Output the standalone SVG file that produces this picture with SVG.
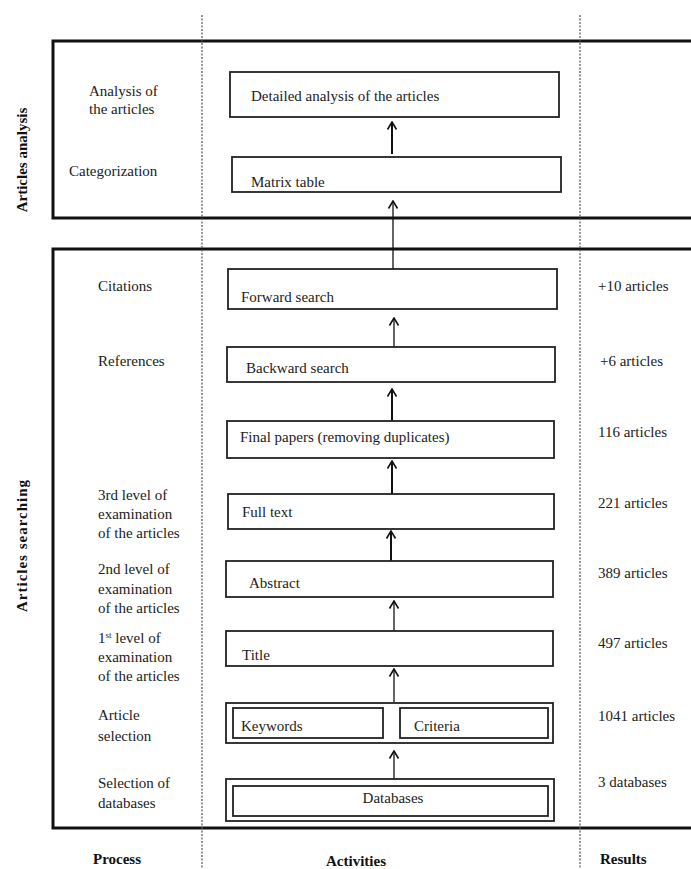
<svg xmlns="http://www.w3.org/2000/svg" width="691" height="869" viewBox="0 0 691 869">
<style>
text{font-family:"Liberation Serif","Times New Roman",serif;font-size:15px;fill:#222}
.b{font-weight:bold;fill:#111}
.frame{fill:none;stroke:#111;stroke-width:3}
.box{fill:#fff;stroke:#222;stroke-width:1.8}
.dash{stroke:#555;stroke-width:1.2;stroke-dasharray:2 1.5}
.arr{stroke:#111;fill:none;marker-end:url(#ah)}
</style>
<defs>
<marker id="ah" markerUnits="userSpaceOnUse" markerWidth="10" markerHeight="12" refX="8.5" refY="6" orient="auto" viewBox="0 0 10 12">
<path d="M1,1.5 L8.5,6 L1,10.5" fill="none" stroke="#111" stroke-width="1.6"/>
</marker>
</defs>
<rect width="691" height="869" fill="#fff"/>
<g id="frames">
<rect class="frame" x="53" y="41" width="660" height="177"/>
<rect class="frame" x="53" y="249" width="660" height="579"/>
<line class="dash" x1="202" y1="15" x2="202" y2="869"/>
<line class="dash" x1="580" y1="15" x2="580" y2="869"/>
</g>
<g id="labels-vertical">
<text class="b" transform="translate(27,160) rotate(-90)" text-anchor="middle">Articles analysis</text>
<text class="b" transform="translate(27,546) rotate(-90)" text-anchor="middle" textLength="132" lengthAdjust="spacing">Articles searching</text>
</g>
<g id="process-labels">
<text x="89" y="96">Analysis of</text>
<text x="89" y="114">the articles</text>
<text x="69" y="176">Categorization</text>
<text x="98" y="291">Citations</text>
<text x="98" y="366">References</text>
<text x="98" y="500">3rd level of</text>
<text x="98" y="519">examination</text>
<text x="98" y="538">of the articles</text>
<text x="98" y="574">2nd level of</text>
<text x="98" y="594">examination</text>
<text x="98" y="613">of the articles</text>
<text x="98" y="643">1<tspan font-size="9" dy="-5">st</tspan><tspan dy="5"> level of</tspan></text>
<text x="98" y="662">examination</text>
<text x="98" y="681">of the articles</text>
<text x="98" y="720">Article</text>
<text x="98" y="741">selection</text>
<text x="98" y="788">Selection of</text>
<text x="98" y="808">databases</text>
</g>
<g id="results">
<text x="598" y="291">+10 articles</text>
<text x="600" y="366">+6 articles</text>
<text x="598" y="437">116 articles</text>
<text x="598" y="508">221 articles</text>
<text x="598" y="578">389 articles</text>
<text x="598" y="648">497 articles</text>
<text x="598" y="721">1041 articles</text>
<text x="598" y="787">3 databases</text>
</g>
<g id="headers">
<text class="b" x="93" y="864">Process</text>
<text class="b" x="326" y="866">Activities</text>
<text class="b" x="600" y="864">Results</text>
</g>
<g id="connectors">
<line class="arr" x1="392" y1="154" x2="392" y2="122" stroke-width="2"/>
<line class="arr" x1="393" y1="269" x2="393" y2="201" stroke-width="1.3"/>
<line class="arr" x1="394" y1="347" x2="394" y2="318" stroke-width="1.3"/>
<line class="arr" x1="392" y1="421" x2="392" y2="389" stroke-width="2"/>
<line class="arr" x1="392" y1="494" x2="392" y2="461" stroke-width="2"/>
<line class="arr" x1="391" y1="561" x2="391" y2="531" stroke-width="2"/>
<line class="arr" x1="394" y1="631" x2="394" y2="601" stroke-width="1.3"/>
<line class="arr" x1="394" y1="702" x2="394" y2="669" stroke-width="1.3"/>
<line class="arr" x1="394" y1="779" x2="394" y2="751" stroke-width="1.3"/>
</g>
<g id="n-detailed">
<rect class="box" x="230" y="72" width="329" height="45"/>
<text x="251" y="101">Detailed analysis of the articles</text>
</g>
<g id="n-matrix">
<rect class="box" x="232" y="157" width="329" height="35"/>
<text x="251" y="187">Matrix table</text>
</g>
<g id="n-forward">
<rect class="box" x="228" y="269" width="329" height="40"/>
<text x="241" y="302">Forward search</text>
</g>
<g id="n-backward">
<rect class="box" x="227" y="347" width="328" height="35"/>
<text x="246" y="373">Backward search</text>
</g>
<g id="n-final">
<rect class="box" x="227" y="421" width="327" height="37"/>
<text x="240" y="442">Final papers (removing duplicates)</text>
</g>
<g id="n-fulltext">
<rect class="box" x="228" y="494" width="326" height="35"/>
<text x="242" y="517">Full text</text>
</g>
<g id="n-abstract">
<rect class="box" x="226" y="561" width="327" height="36"/>
<text x="249" y="588">Abstract</text>
</g>
<g id="n-title">
<rect class="box" x="226" y="631" width="327" height="35"/>
<text x="242" y="660">Title</text>
</g>
<g id="n-selection">
<rect class="box" x="226" y="703" width="327" height="40"/>
<rect class="box" x="233" y="708" width="150" height="30"/>
<rect class="box" x="400" y="708" width="148" height="30"/>
<text x="241" y="731">Keywords</text>
<text x="414" y="731">Criteria</text>
</g>
<g id="n-databases">
<rect class="box" x="226" y="779" width="328" height="42"/>
<rect class="box" x="233" y="786" width="315" height="30"/>
<text x="393" y="803" text-anchor="middle">Databases</text>
</g>
</svg>
